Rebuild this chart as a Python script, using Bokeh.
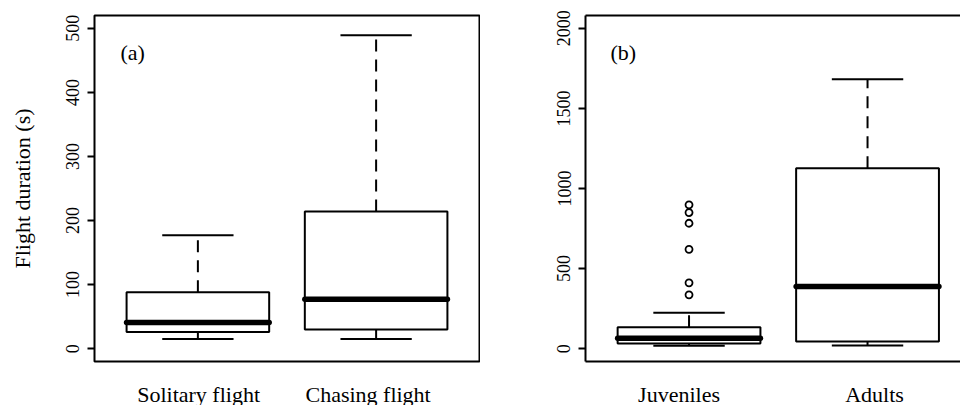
from bokeh.plotting import figure
from bokeh.layouts import row
from bokeh.models import FixedTicker, Range1d, LinearAxis
from bokeh.core.properties import value
from bokeh.embed import file_html
from bokeh.resources import INLINE

# ---------------- data ----------------
groups_a = ["Solitary flight", "Chasing flight"]
a_lower = [15, 15]
a_q1 = [26, 30]
a_median = [41, 77]
a_q3 = [88, 214]
a_upper = [177, 489]
a_yticks = [0, 100, 200, 300, 400, 500]

groups_b = ["Juveniles", "Adults"]
b_lower = [18, 20]
b_q1 = [33, 45]
b_median = [65, 388]
b_q3 = [134, 1127]
b_upper = [224, 1682]
b_outliers_juveniles = [336, 411, 620, 783, 850, 898]
b_yticks = [0, 500, 1000, 1500, 2000]

panel_tags = ["(a)", "(b)"]

FONT = "Liberation Serif"
BOXW = 0.8
CAPW = 0.4
H = 410
BOTTOM = 49


def style(p, yticks, label_pos, labels):
    p.xgrid.visible = False
    p.ygrid.visible = False
    p.background_fill_color = "white"
    p.border_fill_color = "white"
    # y axis
    ya = p.yaxis[0]
    ya.ticker = FixedTicker(ticks=yticks)
    ya.major_label_orientation = "vertical"
    ya.major_label_text_font = FONT
    ya.major_label_text_font_size = "18px"
    ya.major_label_text_color = "black"
    ya.major_tick_in = 0
    ya.major_tick_out = 7
    ya.major_tick_line_width = 2
    ya.major_tick_line_color = "black"
    ya.minor_tick_line_color = None
    ya.major_label_standoff = 8
    # x axis
    xa = p.xaxis[0]
    xa.ticker = FixedTicker(ticks=label_pos)
    xa.major_label_overrides = {lp: lb for lp, lb in zip(label_pos, labels)}
    xa.major_label_text_font = FONT
    xa.major_label_text_font_size = "22px"
    xa.major_label_text_color = "black"
    xa.major_label_text_line_height = 1.0
    xa.major_tick_in = 0
    xa.major_tick_out = 0
    xa.minor_tick_line_color = None
    xa.major_label_standoff = 20


def draw_boxes(p, xs, lower, q1, med, q3, upper):
    p.quad(left=[x - BOXW / 2 for x in xs], right=[x + BOXW / 2 for x in xs],
           bottom=q1, top=q3, fill_color="white", line_color="black", line_width=2)
    # whiskers (dashed), drawn from the box outward
    p.segment(x0=xs, y0=q3, x1=xs, y1=upper, line_color="black", line_width=2,
              line_dash="12 8")
    p.segment(x0=xs, y0=q1, x1=xs, y1=lower, line_color="black", line_width=2,
              line_dash="12 8")
    # staples
    p.segment(x0=[x - CAPW / 2 for x in xs], y0=upper, x1=[x + CAPW / 2 for x in xs],
              y1=upper, line_color="black", line_width=2)
    p.segment(x0=[x - CAPW / 2 for x in xs], y0=lower, x1=[x + CAPW / 2 for x in xs],
              y1=lower, line_color="black", line_width=2)
    # medians
    p.segment(x0=[x - BOXW / 2 for x in xs], y0=med, x1=[x + BOXW / 2 for x in xs],
              y1=med, line_color="black", line_width=5.5, line_cap="round")


# ---------------- panel (a) ----------------
pa = figure(width=480, height=H, output_backend="svg", toolbar_location=None,
            x_range=Range1d(0.42, 2.58), y_range=Range1d(-20, 520),
            min_border_left=94, min_border_right=1, min_border_top=15,
            min_border_bottom=BOTTOM)
pa.outline_line_color = "black"
pa.outline_line_width = 2
pa.outline_line_alpha = 1
style(pa, a_yticks, [1.004, 1.955], groups_a)
pa.yaxis[0].axis_line_color = None
pa.xaxis[0].axis_line_color = None
pa.yaxis[0].axis_label = "Flight duration (s)"
pa.yaxis[0].axis_label_text_font = FONT
pa.yaxis[0].axis_label_text_font_size = "22px"
pa.yaxis[0].axis_label_text_font_style = "normal"
pa.yaxis[0].axis_label_text_color = "black"
pa.yaxis[0].axis_label_standoff = 29
xa_pos = [1, 2]
draw_boxes(pa, xa_pos, a_lower, a_q1, a_median, a_q3, a_upper)
pa.text(x=[0.566], y=[462], text=[panel_tags[0]], text_font=value(FONT),
        text_font_size="22px", text_align="left", text_baseline="middle",
        text_color="black")

# ---------------- panel (b) ----------------
pb = figure(width=480, height=H, output_backend="svg", toolbar_location=None,
            x_range=Range1d(0.42, 2.5208), y_range=Range1d(-80, 2080),
            min_border_left=105, min_border_right=0, min_border_top=15,
            min_border_bottom=BOTTOM)
pb.outline_line_color = None
style(pb, b_yticks, [0.944, 2.039], groups_b)
pb.yaxis[0].axis_line_color = "black"
pb.yaxis[0].axis_line_width = 2
pb.xaxis[0].axis_line_color = "black"
pb.xaxis[0].axis_line_width = 2
top = LinearAxis(ticker=FixedTicker(ticks=[]), major_label_text_font_size="0px",
                 major_tick_out=0, major_tick_in=0, minor_tick_line_color=None,
                 major_label_standoff=0, axis_line_color="black", axis_line_width=2)
pb.add_layout(top, "above")
xb_pos = [1, 2]
draw_boxes(pb, xb_pos, b_lower, b_q1, b_median, b_q3, b_upper)
pb.scatter(x=[xb_pos[0]] * len(b_outliers_juveniles), y=b_outliers_juveniles,
           marker="circle", size=7, fill_color=None, line_color="black",
           line_width=1.8)
pb.text(x=[0.56], y=[1849], text=[panel_tags[1]], text_font=value(FONT),
        text_font_size="22px", text_align="left", text_baseline="middle",
        text_color="black")

layout = row(pa, pb)
open("out.html", "w").write(file_html(layout, INLINE))
